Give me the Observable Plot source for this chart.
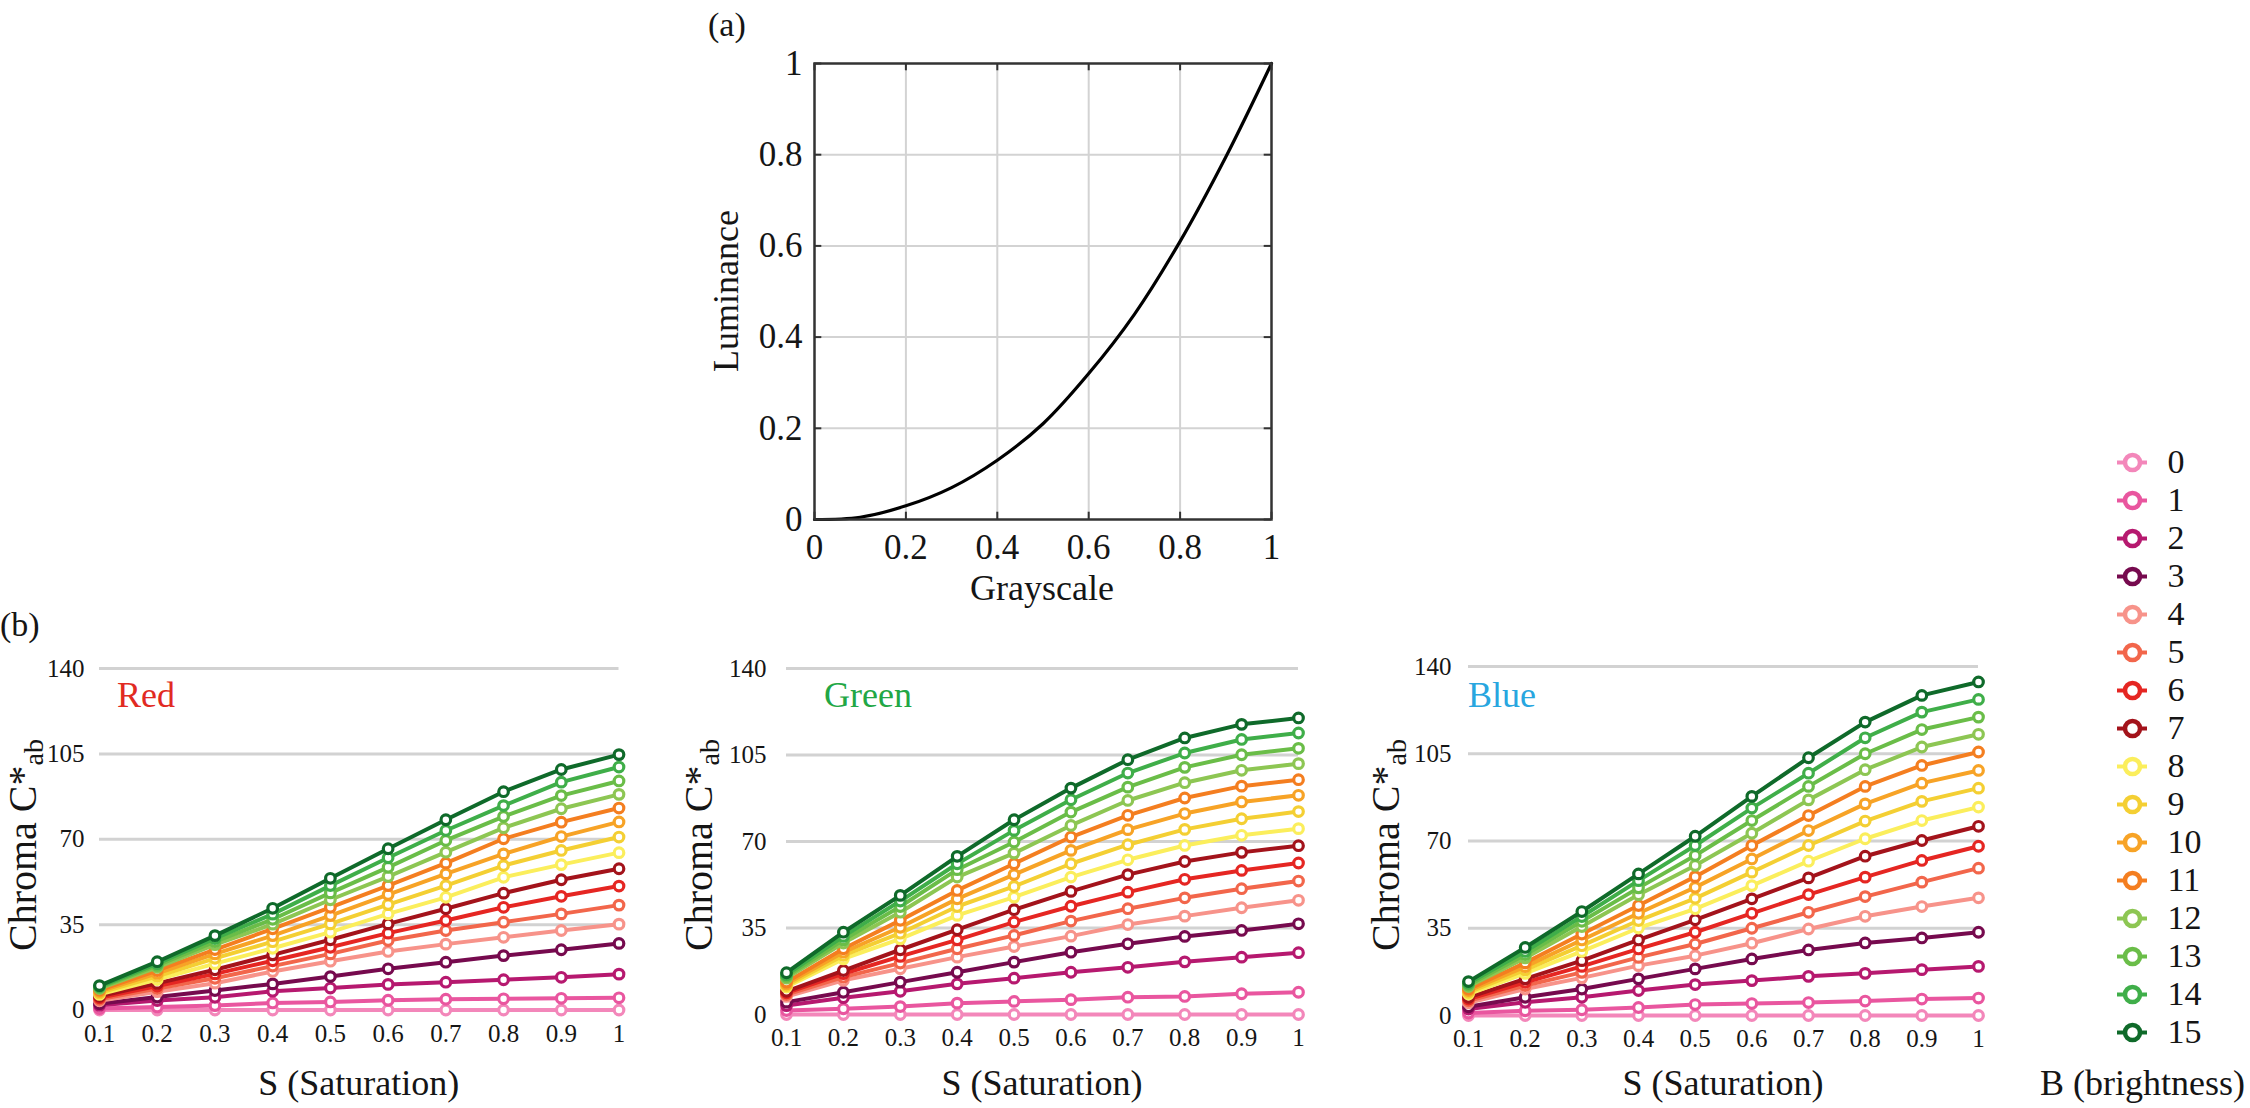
<!DOCTYPE html>
<html><head><meta charset="utf-8">
<script src="https://cdn.jsdelivr.net/npm/d3@7"></script>
<script src="https://cdn.jsdelivr.net/npm/@observablehq/plot@0.6"></script>
<style>
body{margin:0;background:#fff;}
#fig{position:relative;width:2250px;height:1108px;overflow:hidden;font-family:"Liberation Serif","Times New Roman",serif;color:#151515;background:#fff;}
#fig svg{position:absolute;overflow:visible;}
.abs{position:absolute;white-space:nowrap;line-height:1;}
.abs sub{font-size:0.7em;vertical-align:-0.25em;}
</style></head><body><div id="fig"></div>
<script>
// ---------- data ----------
const saturation = [0.1, 0.2, 0.3, 0.4, 0.5, 0.6, 0.7, 0.8, 0.9, 1];
const brightness = [0, 1, 2, 3, 4, 5, 6, 7, 8, 9, 10, 11, 12, 13, 14, 15];
const chromaTicks = [0, 35, 70, 105, 140];
const grayTicks = [0, 0.2, 0.4, 0.6, 0.8, 1];

const grayscale = [0, 0.1, 0.2, 0.3, 0.4, 0.5, 0.6, 0.7, 0.8, 0.9, 1];
const luminance = [0, 0.005, 0.03, 0.07, 0.13, 0.21, 0.32, 0.45, 0.61, 0.795, 1];

const seriesColors = ["#f387ba", "#e9569f", "#b6196f", "#760a4e", "#f7938a", "#f2664b", "#e52622", "#a3131b",
                      "#fbee5c", "#f4cf33", "#f7a326", "#f47e20", "#8dc653", "#6abd48", "#3fae49", "#0f6a2a"];

// Chroma C*ab per brightness B (rows 0..15) at S = 0.1 .. 1
const redChroma = [
  [0, 0, 0, 0, 0, 0, 0, 0, 0, 0],
  [0.6, 1.2, 1.8, 2.9, 3.3, 4.0, 4.4, 4.6, 4.8, 5.0],
  [1.9, 3.9, 5.2, 7.7, 9.0, 10.5, 11.4, 12.4, 13.4, 14.7],
  [2.6, 5.3, 8.0, 10.7, 13.7, 16.9, 19.6, 22.3, 24.7, 27.3],
  [3.8, 7.5, 11.0, 15.8, 20.0, 24.0, 27.0, 29.8, 32.6, 35.2],
  [4.4, 8.8, 13.0, 18.0, 23.0, 28.5, 32.6, 36.0, 39.4, 43.0],
  [5.0, 9.8, 14.8, 20.2, 25.7, 31.5, 36.7, 42.1, 46.6, 50.8],
  [5.6, 10.9, 16.5, 22.6, 28.8, 35.3, 41.5, 47.9, 53.4, 57.9],
  [6.4, 12.5, 19.0, 25.3, 31.9, 39.4, 46.2, 54.4, 59.6, 64.5],
  [7.0, 13.8, 21.2, 28.0, 35.3, 43.2, 51.0, 59.2, 65.4, 70.9],
  [7.6, 15.0, 23.0, 30.5, 38.7, 47.3, 55.8, 64.0, 71.1, 77.1],
  [8.2, 16.2, 24.8, 33.3, 42.1, 51.0, 60.2, 70.2, 77.0, 82.8],
  [8.8, 17.5, 26.8, 35.2, 45.2, 54.7, 64.7, 74.7, 82.5, 88.4],
  [9.2, 18.3, 28.0, 37.2, 48.0, 58.5, 69.5, 79.3, 87.9, 93.9],
  [9.6, 19.0, 29.3, 39.3, 51.0, 62.4, 73.6, 83.8, 93.4, 99.6],
  [10.0, 19.8, 30.5, 41.7, 54.0, 66.1, 78.0, 89.5, 98.6, 104.7]
];
const greenChroma = [
  [0, 0, 0, 0, 0, 0, 0, 0, 0, 0],
  [1.6, 2.3, 3.2, 4.6, 5.3, 6.0, 7.0, 7.3, 8.4, 9.0],
  [3.6, 6.8, 9.4, 12.4, 14.7, 17.1, 19.1, 21.3, 23.2, 25.0],
  [5.0, 9.0, 13.1, 17.1, 21.2, 25.2, 28.6, 31.6, 34.0, 36.7],
  [7.3, 13.8, 18.5, 23.2, 27.5, 31.7, 36.4, 39.8, 43.2, 46.2],
  [8.1, 15.1, 20.8, 26.6, 32.0, 37.8, 42.8, 47.2, 50.9, 54.0],
  [8.8, 16.5, 23.5, 30.2, 37.4, 43.8, 49.5, 54.7, 58.3, 61.3],
  [9.4, 17.8, 26.2, 34.3, 42.4, 49.8, 56.6, 61.9, 65.6, 68.3],
  [11.1, 22.5, 30.6, 40.1, 47.5, 55.6, 62.6, 68.4, 72.5, 75.2],
  [11.7, 23.9, 32.9, 43.7, 51.8, 61.0, 68.7, 74.9, 79.2, 82.1],
  [12.4, 25.2, 35.3, 46.8, 56.6, 66.4, 74.8, 81.3, 86.0, 88.7],
  [13.1, 26.6, 38.1, 50.2, 61.0, 71.8, 80.6, 87.6, 92.4, 95.0],
  [14.7, 28.9, 41.4, 55.6, 65.3, 76.5, 86.6, 93.8, 98.8, 101.5],
  [15.4, 30.2, 43.7, 58.6, 69.8, 81.9, 92.0, 100.0, 105.1, 107.7],
  [16.1, 31.6, 45.9, 61.0, 74.5, 86.9, 97.7, 105.8, 111.3, 113.9],
  [16.9, 33.3, 48.2, 64.0, 78.8, 91.6, 103.1, 111.9, 117.4, 120.0]
];
const blueChroma = [
  [0, 0, 0, 0, 0, 0, 0, 0, 0, 0],
  [1.0, 1.9, 2.3, 3.2, 4.4, 4.8, 5.2, 5.8, 6.6, 7.0],
  [2.6, 5.3, 7.3, 10.0, 12.4, 14.0, 15.7, 16.9, 18.4, 19.7],
  [3.5, 7.3, 10.6, 14.7, 18.7, 22.7, 26.3, 29.1, 31.1, 33.4],
  [5.1, 10.6, 15.1, 20.0, 24.0, 29.0, 34.7, 39.8, 43.7, 47.2],
  [5.9, 12.0, 17.3, 23.3, 28.7, 35.0, 41.4, 47.7, 53.5, 59.1],
  [6.6, 13.3, 19.7, 26.7, 33.4, 41.0, 48.5, 55.5, 62.2, 67.9],
  [7.3, 14.7, 22.0, 30.3, 38.4, 46.8, 55.2, 63.9, 70.2, 75.9],
  [8.6, 16.9, 25.7, 35.1, 42.8, 52.1, 61.9, 70.9, 78.2, 83.6],
  [9.3, 18.3, 28.0, 38.1, 47.0, 57.5, 68.2, 78.0, 85.9, 91.2],
  [10.0, 19.6, 30.3, 41.0, 51.4, 62.8, 74.2, 84.9, 93.2, 98.3],
  [10.6, 21.1, 32.7, 44.1, 55.7, 68.2, 80.2, 91.9, 100.3, 105.7],
  [11.6, 23.1, 35.7, 48.4, 60.2, 73.1, 86.5, 98.6, 107.7, 112.8],
  [12.2, 24.4, 37.8, 51.2, 64.2, 78.2, 91.9, 105.0, 114.7, 119.7],
  [12.9, 25.7, 39.7, 54.1, 68.2, 83.2, 97.2, 111.4, 121.7, 126.8],
  [13.6, 27.3, 41.7, 56.8, 71.9, 87.9, 103.4, 117.7, 128.4, 133.8]
];

// ---------- helpers ----------
const fig = document.getElementById("fig");
const FONT = '"Liberation Serif","Times New Roman",serif';
const fmt = d3.format("~g");

function place(svg, left, top) {
  svg.style.left = left + "px";
  svg.style.top = top + "px";
  fig.appendChild(svg);
}
function addText(html, x, y, fs, opts = {}) {
  const {anchor = "start", color = "#151515", rotate = 0} = opts;
  const d = document.createElement("div");
  d.className = "abs";
  d.innerHTML = html;
  d.style.fontSize = fs + "px";
  d.style.color = color;
  d.style.left = x + "px";
  d.style.top = y + "px";
  const tx = rotate ? "-50%" : anchor === "middle" ? "-50%" : anchor === "end" ? "-100%" : "0";
  d.style.transform = `translate(${tx},-50%)` + (rotate ? ` rotate(${rotate}deg)` : "");
  fig.appendChild(d);
}

// ---------- panel (a) ----------
const lumData = grayscale.map((g, i) => ({g, l: luminance[i]}));
const inner = grayTicks.slice(1, -1);
const plotA = Plot.plot({
  width: 620, height: 620,
  marginLeft: 124, marginRight: 39, marginTop: 63, marginBottom: 101,
  x: {domain: [0, 1], label: null},
  y: {domain: [0, 1], label: null},
  style: {fontFamily: FONT, color: "#151515", background: "transparent"},
  marks: [
    Plot.ruleX(inner, {stroke: "#d3d3d3", strokeWidth: 2}),
    Plot.ruleY(inner, {stroke: "#d3d3d3", strokeWidth: 2}),
    Plot.ruleX(grayTicks, {y1: 0, y2: 0.016, stroke: "#333", strokeWidth: 2}),
    Plot.ruleX(grayTicks, {y1: 1, y2: 0.984, stroke: "#333", strokeWidth: 2}),
    Plot.ruleY(grayTicks, {x1: 0, x2: 0.016, stroke: "#333", strokeWidth: 2}),
    Plot.ruleY(grayTicks, {x1: 1, x2: 0.984, stroke: "#333", strokeWidth: 2}),
    Plot.line(lumData, {x: "g", y: "l", curve: "catmull-rom", stroke: "#000", strokeWidth: 3.2}),
    Plot.frame({stroke: "#333", strokeWidth: 2.5}),
    Plot.axisX(grayTicks, {tickSize: 0, tickPadding: 15, fontSize: 35, tickFormat: fmt}),
    Plot.axisY(grayTicks, {tickSize: 0, tickPadding: 12, fontSize: 35, tickFormat: fmt})
  ]
});
place(plotA, 690, 0);
addText("(a)", 708, 25, 34);
addText("Luminance", 726, 291, 36, {rotate: -90});
addText("Grayscale", 1042, 588, 36, {anchor: "middle"});

// ---------- panels (b) ----------
function chromaPanel(values, cfg) {
  const data = [];
  values.forEach((row, b) => row.forEach((v, i) => data.push({B: b, S: saturation[i], C: v})));
  const marks = [
    Plot.ruleY(chromaTicks.slice(1), {stroke: "#d2d2d2", strokeWidth: 3}),
    Plot.axisY(chromaTicks, {tickSize: 0, tickPadding: cfg.yPad, fontSize: 25}),
    Plot.axisX(saturation, {tickSize: 0, tickPadding: 14, fontSize: 25, tickFormat: fmt})
  ];
  for (const b of brightness) {
    const d = data.filter(r => r.B === b);
    marks.push(Plot.line(d, {x: "S", y: "C", stroke: seriesColors[b], strokeWidth: 4}));
    marks.push(Plot.dot(d, {x: "S", y: "C", r: 4.8, stroke: seriesColors[b], strokeWidth: 3.2, fill: "white"}));
  }
  return Plot.plot({
    width: 660, height: 488,
    marginLeft: cfg.ml, marginRight: cfg.mr, marginTop: cfg.mt, marginBottom: cfg.mb,
    x: {domain: [0.1, 1], label: null},
    y: {domain: [0, 140], label: null},
    style: {fontFamily: FONT, color: "#151515", background: "transparent"},
    marks
  });
}

const panels = [
  {vals: redChroma, left: 0, ml: 99, mr: 41.5, mt: 48, mb: 98.5, yPad: 15, name: "Red", color: "#e12a22", nameX: 117, titleX: 25},
  {vals: greenChroma, left: 680, ml: 106, mr: 42, mt: 48, mb: 94, yPad: 20, name: "Green", color: "#22a745", nameX: 824, titleX: 701},
  {vals: blueChroma, left: 1370, ml: 98, mr: 52, mt: 46, mb: 93, yPad: 17, name: "Blue", color: "#28a6df", nameX: 1468, titleX: 1388}
];
for (const p of panels) {
  place(chromaPanel(p.vals, p), p.left, 620);
  const cx = p.left + p.ml + (660 - p.ml - p.mr) / 2;
  addText(p.name, p.nameX, 695, 36, {color: p.color});
  addText("Chroma C*<sub>ab</sub>", p.titleX, 845, 40, {rotate: -90});
  addText("S (Saturation)", cx, 1083, 36, {anchor: "middle"});
}
addText("(b)", 0, 625, 34);

// ---------- legend ----------
const legData = brightness.map(b => ({B: b}));
const legend = Plot.plot({
  width: 160, height: 640,
  marginLeft: 0, marginRight: 0, marginTop: 0, marginBottom: 0,
  x: {domain: [0, 160], range: [0, 160], axis: null},
  y: {domain: [0, 15], range: [32, 602], axis: null},
  style: {fontFamily: FONT, color: "#151515", background: "transparent"},
  marks: [
    Plot.ruleY(legData, {y: "B", x1: 27, x2: 57, stroke: d => seriesColors[d.B], strokeWidth: 4}),
    Plot.dot(legData, {y: "B", x: 42, r: 7.5, stroke: d => seriesColors[d.B], strokeWidth: 4.5, fill: "white"}),
    Plot.text(legData, {y: "B", x: 77, text: d => String(d.B), textAnchor: "start", fontSize: 34, fill: "#151515"})
  ]
});
place(legend, 2090, 430);
addText("B (brightness)", 2040, 1083, 36);
</script></body></html>
